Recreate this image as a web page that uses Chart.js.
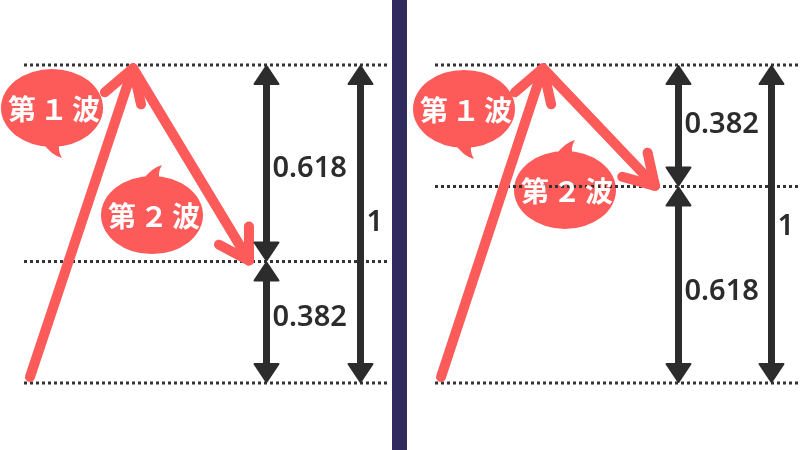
<!DOCTYPE html>
<html>
<head>
<meta charset="utf-8">
<script src="https://cdn.jsdelivr.net/npm/chart.js@4.4.1/dist/chart.umd.min.js"></script>
<style>
  html, body { margin: 0; padding: 0; background: #fff; }
  #wrap { position: relative; width: 800px; height: 450px; overflow: hidden; }
  #wrap canvas { position: absolute; left: 0; top: 0; }
  #divider { position: absolute; left: 392px; top: 0; width: 15px; height: 450px; background: #2f2b5e; }
</style>
</head>
<body>
<div id="wrap">
  <canvas id="chart" width="800" height="450"></canvas>
  <div id="divider"></div>
</div>
<script>
// price levels: 0 = start of wave 1, 1 = top of wave 1
const levelsLeft = [0, 0.382, 1];
const levelsRight = [0, 0.618, 1];
const lineXLeft = [24, 387];
const lineXRight = [435, 800];

// wave points: start, top of wave 1, end of wave 2
const waveXLeft = [30, 133, 249];
const waveYLeft = [0.019, 0.99, 0.385];
const waveXRight = [441, 543, 655];
const waveYRight = [0.019, 0.99, 0.62];

// measuring arrows (from level -> to level), their labels and where the label sits
const arrowXLeft = [266.5, 266.5, 360.5];
const arrowFromLeft = [0.382, 0, 0];
const arrowToLeft = [1, 0.382, 1];
const arrowLabelsLeft = ["0.618", "0.382", "1"];
const arrowLabelAtLeft = [0.673, 0.204, 0.503];
const arrowXRight = [678.5, 678.5, 771.5];
const arrowFromRight = [0.618, 0, 0];
const arrowToRight = [1, 0.618, 1];
const arrowLabelsRight = ["0.382", "0.618", "1"];
const arrowLabelAtRight = [0.811, 0.286, 0.491];

// speech bubbles
const bubbleLabels = ["第１波", "第２波"];
const bubbleXLeft = [52, 152];
const bubbleYLeft = [0.865, 0.528];
const bubbleXRight = [464, 565];
const bubbleYRight = [0.862, 0.607];

const RED = "#fd5a5a";
const DARK = "#2c2c2c";

const datasets = [];

// waves first so they sit on top of the dotted lines
[[waveXLeft, waveYLeft], [waveXRight, waveYRight]].forEach(([xs, ys]) => {
  datasets.push({
    kind: "wave",
    data: xs.map((x, i) => ({ x: x, y: ys[i] })),
    showLine: true,
    borderColor: RED,
    borderWidth: 10,
    borderCapStyle: "round",
    borderJoinStyle: "round",
    pointRadius: 0,
    clip: false,
  });
});

[[levelsLeft, lineXLeft], [levelsRight, lineXRight]].forEach(([lv, xs]) => {
  lv.forEach((v) => {
    datasets.push({
      kind: "level",
      data: [{ x: xs[0], y: v }, { x: xs[1], y: v }],
      showLine: true,
      borderColor: "#333",
      borderWidth: 3,
      borderDash: [3, 3],
      pointRadius: 0,
      clip: false,
    });
  });
});

[[arrowXLeft, arrowFromLeft, arrowToLeft, arrowLabelsLeft, arrowLabelAtLeft],
 [arrowXRight, arrowFromRight, arrowToRight, arrowLabelsRight, arrowLabelAtRight]].forEach(([xs, from, to, labels, at]) => {
  xs.forEach((x, i) => {
    datasets.push({
      kind: "measure",
      text: labels[i],
      // third point is the label anchor
      data: [{ x: x, y: from[i] }, { x: x, y: to[i] }, { x: x, y: at[i] }],
      showLine: false,
      pointRadius: 0,
    });
  });
});

[[bubbleXLeft, bubbleYLeft], [bubbleXRight, bubbleYRight]].forEach(([xs, ys]) => {
  xs.forEach((x, i) => {
    datasets.push({
      kind: "bubble",
      text: bubbleLabels[i],
      tailUp: i === 1,
      data: [{ x: x, y: ys[i] }],
      showLine: false,
      pointRadius: 0,
    });
  });
});

function metaPoints(chart, i) {
  return chart.getDatasetMeta(i).data.map((p) => ({ x: p.x, y: p.y }));
}

const drawing = {
  id: "drawing",
  beforeDatasetsDraw(chart) {
    const ctx = chart.ctx;
    chart.data.datasets.forEach((ds, i) => {
      if (ds.kind !== "bubble") return;
      const c = metaPoints(chart, i)[0];
      const rx = 51, ry = 39;
      ctx.save();
      ctx.fillStyle = RED;
      ctx.beginPath();
      ctx.ellipse(c.x, c.y, rx, ry, 0, 0, Math.PI * 2);
      ctx.fill();
      // tail
      const s = ds.tailUp ? -1 : 1;
      ctx.beginPath();
      ctx.moveTo(c.x - 9, c.y + s * (ry - 4));
      ctx.quadraticCurveTo(c.x - 1, c.y + s * (ry + 8), c.x + 10, c.y + s * (ry + 11));
      ctx.quadraticCurveTo(c.x + 5, c.y + s * (ry + 3), c.x + 8, c.y + s * (ry - 4));
      ctx.closePath();
      ctx.fill();
      ctx.restore();
    });
  },
  afterDatasetsDraw(chart) {
    const ctx = chart.ctx;
    chart.data.datasets.forEach((ds, i) => {
      const pts = metaPoints(chart, i);
      if (ds.kind === "wave") {
        ctx.save();
        ctx.strokeStyle = RED;
        ctx.lineWidth = 10;
        ctx.lineCap = "round";
        ctx.lineJoin = "round";
        [1, 2].forEach((k) => {
          const p = pts[k], q = pts[k - 1];
          const a = Math.atan2(q.y - p.y, q.x - p.x);
          const len = k === 1 ? 37 : 34;
          const spread = 31 * Math.PI / 180;
          ctx.beginPath();
          ctx.moveTo(p.x + Math.cos(a + spread) * len, p.y + Math.sin(a + spread) * len);
          ctx.lineTo(p.x, p.y);
          ctx.lineTo(p.x + Math.cos(a - spread) * len, p.y + Math.sin(a - spread) * len);
          ctx.stroke();
        });
        ctx.restore();
      } else if (ds.kind === "measure") {
        const top = pts[0].y < pts[1].y ? pts[0] : pts[1];
        const bot = pts[0].y < pts[1].y ? pts[1] : pts[0];
        const hl = 18, hw = 12;
        ctx.save();
        ctx.fillStyle = DARK;
        ctx.strokeStyle = DARK;
        ctx.lineJoin = "round";
        ctx.lineWidth = 2;
        ctx.fillRect(top.x - 3.5, top.y + hl, 7, bot.y - top.y - 2 * hl);
        ctx.beginPath();
        ctx.moveTo(top.x, top.y + 1);
        ctx.lineTo(top.x + hw, top.y + 1 + hl);
        ctx.lineTo(top.x - hw, top.y + 1 + hl);
        ctx.closePath();
        ctx.moveTo(bot.x, bot.y - 1);
        ctx.lineTo(bot.x + hw, bot.y - 1 - hl);
        ctx.lineTo(bot.x - hw, bot.y - 1 - hl);
        ctx.closePath();
        ctx.fill();
        ctx.stroke();
        // label
        ctx.font = '600 29px "Noto Sans", "Open Sans", sans-serif';
        ctx.textAlign = "left";
        ctx.textBaseline = "middle";
        ctx.fillText(ds.text, top.x + 6, pts[2].y);
        ctx.restore();
      } else if (ds.kind === "bubble") {
        const c = pts[0];
        ctx.save();
        ctx.fillStyle = "#fff";
        ctx.font = 'bold 28px "Noto Sans CJK JP", sans-serif';
        ctx.letterSpacing = "4px";
        ctx.textAlign = "center";
        ctx.textBaseline = "middle";
        ctx.fillText(ds.text, c.x + 4, c.y + 1);
        ctx.restore();
      }
    });
  },
};

new Chart(document.getElementById("chart"), {
  type: "scatter",
  data: { datasets: datasets },
  options: {
    responsive: false,
    animation: false,
    layout: { padding: 0 },
    scales: {
      x: { type: "linear", min: 0, max: 800, display: false },
      y: { type: "linear", min: -0.2107, max: 1.2044, display: false },
    },
    plugins: {
      legend: { display: false },
      tooltip: { enabled: false },
    },
  },
  plugins: [drawing],
});
</script>
</body>
</html>
